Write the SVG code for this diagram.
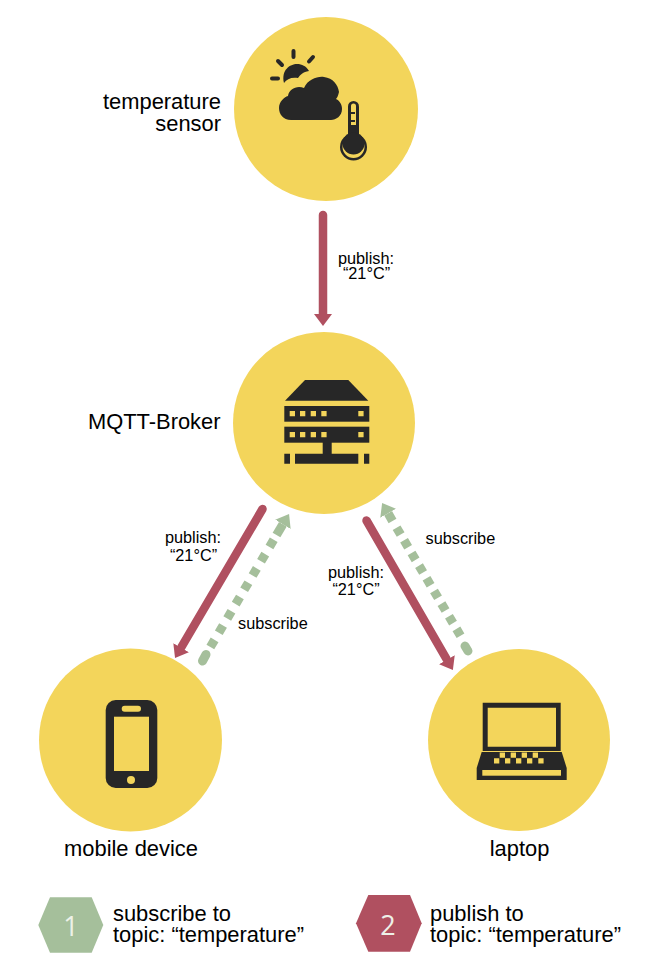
<svg xmlns="http://www.w3.org/2000/svg" width="648" height="972" viewBox="0 0 648 972">
<style>
text{font-family:"Liberation Sans",Arial,sans-serif;fill:#000}
.big{font-size:21.9px}
.small{font-size:16.3px}
.node{fill:#f3d55b}
.ic{fill:#272727}
.y{fill:#f3d55b}
.pub{stroke:#b05060;stroke-width:8.500;fill:none;stroke-linecap:round}
.sub{stroke:#a5bf9b;stroke-width:9;fill:none}
.cap{stroke:#a5bf9b;stroke-width:9;fill:none;stroke-linecap:round}
.num{font-family:"Open Sans",sans-serif;font-size:27px;fill:#eef1e8;text-anchor:middle}
</style>
<defs>
<marker id="hr" markerUnits="userSpaceOnUse" markerWidth="12" markerHeight="19" viewBox="0 0 12 19" refX="0" refY="9.500" orient="auto"><path d="M0 0.500L12 9.500L0 18.500Z" fill="#b05060"/></marker>
<marker id="hg" markerUnits="userSpaceOnUse" markerWidth="12" markerHeight="19" viewBox="0 0 12 19" refX="0" refY="9.500" orient="auto"><path d="M0 0.500L12 9.500L0 18.500Z" fill="#a5bf9b"/></marker>
</defs>
<g id="connectors">
<path class="pub" d="M323 215V314" marker-end="url(#hr)"/>
<path class="pub" d="M262.500 509L181.100 647.700" marker-end="url(#hr)"/>
<path class="pub" d="M366.500 520.500L446.900 659.700" marker-end="url(#hr)"/>
<path class="cap" d="M202.500 661L206 654.500"/>
<path class="sub" stroke-dasharray="8.3 8.3" stroke-dashoffset="-4.650" d="M208 651L273.900 539.500"/>
<path class="sub" d="M276.500 535L282.900 524.300" marker-end="url(#hg)"/>
<path class="cap" d="M468 651L465 646"/>
<path class="sub" stroke-dasharray="8 6.700" stroke-dashoffset="-4.900" d="M463 640L396.300 527.200"/>
<path class="sub" d="M392.500 521L388.100 513.300" marker-end="url(#hg)"/>
</g>
<g id="sensor">
<circle class="node" cx="326" cy="109" r="92"/>
<path d="M293.500 51V57M278 61L282 65M313 57L309 61.500M272 78.500H278" stroke="#272727" stroke-width="4" stroke-linecap="round" fill="none"/>
<path class="ic" d="M284 83C281 70 290 64 297 64C302 64 306 66 309 71C303 72 300 75 298 78C291 77 287 79 284 83Z"/>
<path class="ic" d="M291 120C283 120 279 114 279 108C279 102 284 97 288 96C289 89 297 85 304 88C308 79 318 76 324 77C333 78 338 85 339 92C338 96 337 98 336 99C340 101 342 105 342 109C342 116 336 120 331 120Z"/>
<rect class="ic" x="348" y="101" width="11" height="40" rx="5.500"/>
<circle class="ic" cx="353.500" cy="147" r="13.500"/>
<circle class="y" cx="353.500" cy="147" r="11"/>
<circle class="ic" cx="353.500" cy="143.500" r="11"/>
<path class="y" d="M351 125V106a2.500 2.500 0 0 1 5 0V125Z"/>
<path class="ic" d="M351 112h4v2h-4zM351 120h4v2h-4z"/>
<text class="big" x="221" y="109" text-anchor="end">temperature</text>
<text class="big" x="221" y="131" text-anchor="end">sensor</text>
</g>
<g id="broker">
<circle class="node" cx="324" cy="423" r="91"/>
<path class="ic" d="M305 380H348.300L368.300 400.700H285Z"/>
<rect class="ic" x="284.300" y="406" width="85" height="15.700"/>
<rect class="ic" x="284.300" y="426.700" width="85" height="16"/>
<path class="y" d="M289.700 411h5.300v5.300h-5.300zM300 411h5.300v5.300h-5.300zM310.700 411h5.300v5.300h-5.300zM321.300 411h5.300v5.300h-5.300zM358.300 411h5.300v5.300h-5.300zM289.700 432h5.300v5.300h-5.300zM300 432h5.300v5.300h-5.300zM310.700 432h5.300v5.300h-5.300zM321.300 432h5.300v5.300h-5.300zM358.300 432h5.300v5.300h-5.300z"/>
<path class="ic" d="M322.700 442H331.700V453.700H358.300V463.700H295V453.700H322.700ZM284.300 453.700H290V463.700H284.300ZM364 453.700H369.300V463.700H364Z"/>
<text class="big" x="220.500" y="429" text-anchor="end">MQTT-Broker</text>
</g>
<g id="mobile">
<circle class="node" cx="130.500" cy="740" r="91.500"/>
<rect class="ic" x="105.700" y="700" width="51.600" height="88" rx="10"/>
<rect class="y" x="114" y="716.700" width="35" height="54.300"/>
<rect class="y" x="121.700" y="705.700" width="19.300" height="6" rx="3"/>
<circle class="y" cx="131" cy="780" r="4"/>
<text class="big" x="131" y="856" text-anchor="middle">mobile device</text>
</g>
<g id="laptop">
<circle class="node" cx="519" cy="740" r="91"/>
<path class="ic" fill-rule="evenodd" d="M482.700 702.700H560.700V751H482.700ZM487.700 707.700V746.700H556V707.700Z"/>
<path class="ic" d="M481.700 752H561.700L566.700 768V780H476.700V768Z"/>
<rect class="y" x="482.300" y="770" width="78.700" height="5.700"/>
<path class="y" d="M499.700 752.500h5.300v5.300h-5.300zM510.700 752.500h5.300v5.300h-5.300zM521.700 752.500h5.300v5.300h-5.300zM532.700 752.500h5.300v5.300h-5.300zM494 758.300h5.300v5.300h-5.300zM505 758.300h5.300v5.300h-5.300zM516 758.300h5.300v5.300h-5.300zM527 758.300h5.300v5.300h-5.300zM538.300 758.300h5.300v5.300h-5.300z"/>
<text class="big" x="519.500" y="856" text-anchor="middle">laptop</text>
</g>
<g id="labels">
<text class="small" x="366" y="264" text-anchor="middle">publish:</text>
<text class="small" x="366.500" y="279" text-anchor="middle">“21°C”</text>
<text class="small" x="193" y="543" text-anchor="middle">publish:</text>
<text class="small" x="193.500" y="561" text-anchor="middle">“21°C”</text>
<text class="small" x="356" y="578" text-anchor="middle">publish:</text>
<text class="small" x="356" y="595" text-anchor="middle">“21°C”</text>
<text class="small" x="425.500" y="544">subscribe</text>
<text class="small" x="238" y="629">subscribe</text>
</g>
<g id="legend-subscribe">
<path fill="#a5bf9b" d="M38.300 925L50 897.300H91.700L103.300 925L91.700 952.700H50Z"/>
<text class="num" x="71" y="935.500">1</text>
<text class="big" x="113" y="920.500">subscribe to</text>
<text class="big" x="113" y="942">topic: “temperature”</text>
</g>
<g id="legend-publish">
<path fill="#b05060" d="M356 923.300L368.300 895H410L421.700 923.300L410 951.700H368.300Z"/>
<text class="num" x="388" y="934.500">2</text>
<text class="big" x="430" y="920.500">publish to</text>
<text class="big" x="430" y="942">topic: “temperature”</text>
</g>
</svg>
